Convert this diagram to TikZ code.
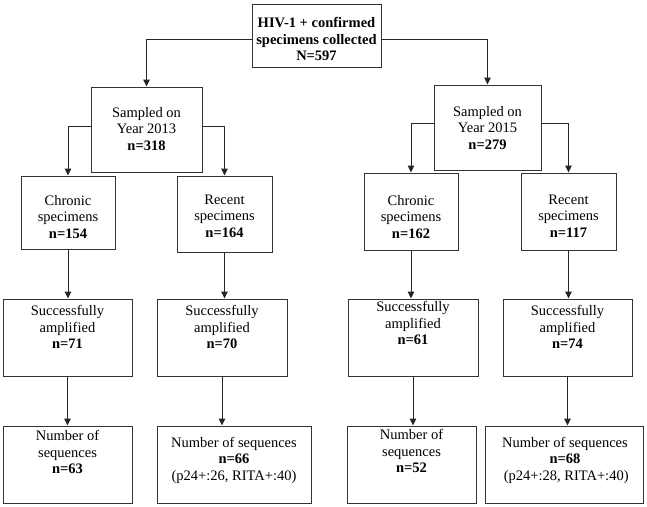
\documentclass[tikz,border=0pt]{standalone}
\usepackage{fontspec}
\setmainfont{Liberation Serif}
\usetikzlibrary{arrows.meta}
\begin{document}
\begin{tikzpicture}[x=1pt,y=-1pt,
  box/.style={draw=black!80,line width=1pt,rectangle,inner sep=0pt,fill=none},
  txt/.style={align=center,inner sep=0pt,font=\fontsize{14.5}{16.5}\selectfont},
  arr/.style={draw=black!85,line width=1pt,-{Triangle[length=7pt,width=6.5pt]}}]
\useasboundingbox (0,0) rectangle (647,506);
% boxes
\node[box,minimum width=129pt,minimum height=63pt] (top) at (316.5,35.5) {};
\node[box,minimum width=111pt,minimum height=85pt] (y13) at (146.5,129.5) {};
\node[box,minimum width=107pt,minimum height=85pt] (y15) at (487.5,127.5) {};
\node[box,minimum width=94pt,minimum height=73pt] (c13) at (68,212.5) {};
\node[box,minimum width=95pt,minimum height=76pt] (r13) at (224.5,214) {};
\node[box,minimum width=94pt,minimum height=77pt] (c15) at (411,211.5) {};
\node[box,minimum width=95pt,minimum height=77pt] (r15) at (568.5,211.5) {};
\node[box,minimum width=129pt,minimum height=77pt] (ac13) at (67.5,337.5) {};
\node[box,minimum width=130pt,minimum height=77pt] (ar13) at (222,337.5) {};
\node[box,minimum width=130pt,minimum height=77pt] (ac15) at (413,337.5) {};
\node[box,minimum width=129pt,minimum height=77pt] (ar15) at (567.5,337.5) {};
\node[box,minimum width=129pt,minimum height=77pt] (sc13) at (67.5,464.5) {};
\node[box,minimum width=154pt,minimum height=77pt] (sr13) at (234,464.5) {};
\node[box,minimum width=129pt,minimum height=77pt] (sc15) at (411.5,464.5) {};
\node[box,minimum width=158pt,minimum height=77pt] (sr15) at (564,464.5) {};
% texts
\node[txt] (ttop) at (316.5,39) {\textbf{HIV-1 + confirmed}\\\textbf{specimens collected}\\\textbf{N=597}};
\node[txt] (ty13) at (146.5,129) {Sampled on\\Year 2013\\\textbf{n=318}};
\node[txt] (ty15) at (487.5,128) {Sampled on\\Year 2015\\\textbf{n=279}};
\node[txt] (tc13) at (68,217) {Chronic\\specimens\\\textbf{n=154}};
\node[txt] (tr13) at (224.5,216) {Recent\\specimens\\\textbf{n=164}};
\node[txt] (tc15) at (411,217) {Chronic\\specimens\\\textbf{n=162}};
\node[txt] (tr15) at (568.5,216) {Recent\\specimens\\\textbf{n=117}};
\node[txt] (tac13) at (67.5,327) {Successfully\\amplified\\\textbf{n=71}};
\node[txt] (tar13) at (222,327) {Successfully\\amplified\\\textbf{n=70}};
\node[txt] (tac15) at (413,323) {Successfully\\amplified\\\textbf{n=61}};
\node[txt] (tar15) at (567.5,327) {Successfully\\amplified\\\textbf{n=74}};
\node[txt] (tsc13) at (67.5,452) {Number of\\sequences\\\textbf{n=63}};
\node[txt] (tsr13) at (234,460) {Number of sequences\\\textbf{n=66}\\(p24+:26, RITA+:40)};
\node[txt] (tsc15) at (411.5,451) {Number of\\sequences\\\textbf{n=52}};
\node[txt] (tsr15) at (565,460) {Number of sequences\\\textbf{n=68}\\\,(p24+:28, RITA+:40)};
% connectors
\draw[arr] (top.west |- 0,39) -| (y13.north);
\draw[arr] (top.east |- 0,39) -| (y15.north);
\draw[arr] (y13.west |- 0,126) -| (c13.north);
\draw[arr] (y13.east |- 0,126) -| (r13.north);
\draw[arr] (y15.west |- 0,123) -| (c15.north);
\draw[arr] (y15.east |- 0,123) -| (r15.north);
\draw[arr] (c13.south) -- (c13.south |- ac13.north);
\draw[arr] (r13.south) -- (r13.south |- ar13.north);
\draw[arr] (c15.south) -- (c15.south |- ac15.north);
\draw[arr] (r15.south) -- (r15.south |- ar15.north);
\draw[arr] (ac13.south) -- (ac13.south |- sc13.north);
\draw[arr] (ar13.south) -- (ar13.south |- sr13.north);
\draw[arr] (ac15.south) -- (ac15.south |- sc15.north);
\draw[arr] (ar15.south) -- (ar15.south |- sr15.north);
\end{tikzpicture}
\end{document}
